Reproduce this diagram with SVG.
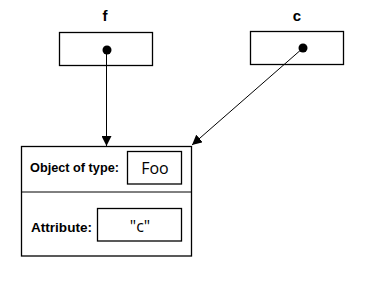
<svg xmlns="http://www.w3.org/2000/svg" width="372" height="282" viewBox="0 0 372 282">
<style>
.box{fill:#fff;stroke:#000;stroke-width:1.3}
.lbl{font-family:"Liberation Sans",Arial,sans-serif;font-weight:bold;font-size:15px;text-anchor:middle}
.b{font-family:"Liberation Sans",Arial,sans-serif;font-weight:bold;font-size:12.5px}
.v{font-family:"Open Sans","Liberation Sans",sans-serif;font-size:16px;text-anchor:middle}
.ln{stroke:#000;stroke-width:1;fill:none}
</style>
<defs>
<marker id="ah" viewBox="0 0 10 10" refX="10" refY="5" markerWidth="10" markerHeight="10" markerUnits="userSpaceOnUse" orient="auto">
<path d="M0,0 L10,5 L0,10 z" fill="#000"/>
</marker>
</defs>
<rect width="372" height="282" fill="#fff"/>
<g id="node-f">
<text class="lbl" x="105" y="21">f</text>
<rect class="box" x="59.5" y="32.5" width="93" height="33"/>
<circle cx="107" cy="50" r="4.5" fill="#000"/>
</g>
<g id="node-c">
<text class="lbl" x="297" y="21">c</text>
<rect class="box" x="250.5" y="31.5" width="93" height="33"/>
<circle cx="303" cy="48" r="4.5" fill="#000"/>
</g>
<g id="node-obj">
<rect class="box" x="21.5" y="146.5" width="170" height="109.5"/>
<line class="ln" x1="21.5" y1="192" x2="191.5" y2="192" stroke-width="1.3"/>
<text class="b" x="30" y="172" textLength="89" lengthAdjust="spacingAndGlyphs">Object of type:</text>
<rect class="box" x="127.5" y="151.5" width="54" height="32.5"/>
<text class="v" x="155" y="173.5">Foo</text>
<text class="b" x="31" y="231.5" textLength="61" lengthAdjust="spacingAndGlyphs">Attribute:</text>
<rect class="box" x="97.5" y="208.5" width="84" height="32.5"/>
<text class="v" x="140" y="231.5">"c"</text>
</g>
<g id="connectors">
<line class="ln" x1="106.5" y1="50" x2="106.5" y2="146" marker-end="url(#ah)"/>
<line class="ln" x1="303" y1="48" x2="192" y2="145" marker-end="url(#ah)"/>
</g>
</svg>
